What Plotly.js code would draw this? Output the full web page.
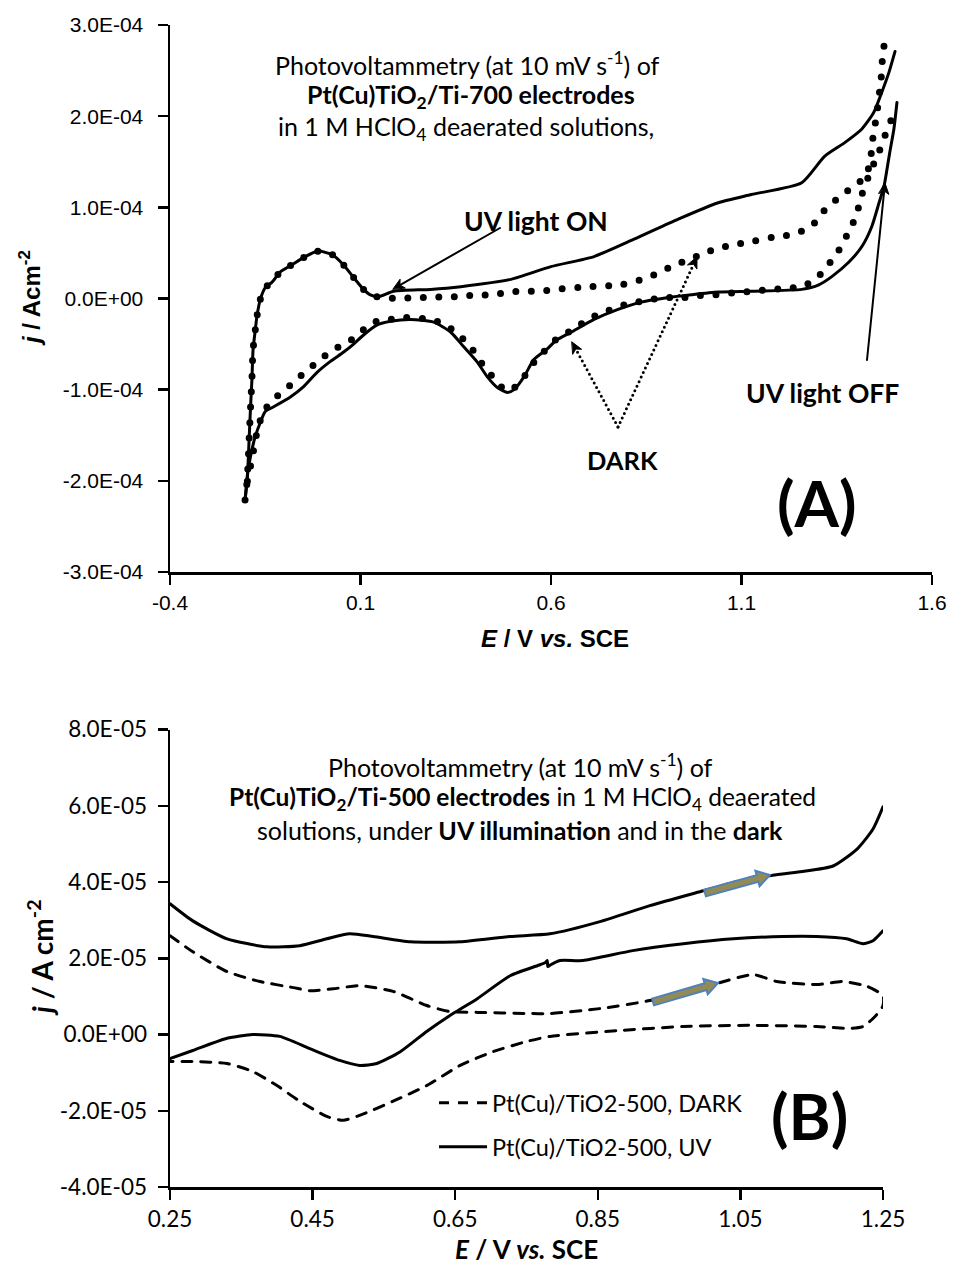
<!DOCTYPE html>
<html><head><meta charset="utf-8">
<script src="https://cdn.plot.ly/plotly-3.0.1.min.js"></script>
<style>
html,body{margin:0;padding:0;background:#fff;}
#chart{width:954px;height:1266px;}
.scatterlayer .js-line{stroke-linecap:round;}
.shapelayer path{stroke-linecap:round;}
</style></head><body><div id="chart"></div>
<script>
// ---------- Panel A : Pt(Cu)TiO2/Ti-700 ----------
const aUvOnE = [-0.203,-0.198,-0.195,-0.192,-0.188,-0.185,-0.182,-0.176,-0.172,-0.163,-0.150,-0.132,-0.111,-0.080,-0.045,-0.011,0.026,0.055,0.082,0.108,0.126,0.147,0.187,0.284,0.363,0.495,0.600,0.713,0.818,0.934,1.039,1.126,1.258,1.318,1.371,1.416,1.447,1.468,1.487,1.503];
const aUvOnJ = [-2.21e-4,-2.02e-4,-1.80e-4,-1.51e-4,-1.14e-4,-0.89e-4,-0.56e-4,-0.34e-4,-0.20e-4,-0.01e-4,0.12e-4,0.18e-4,0.29e-4,0.37e-4,0.46e-4,0.52e-4,0.48e-4,0.37e-4,0.23e-4,0.10e-4,0.04e-4,0.02e-4,0.08e-4,0.10e-4,0.13e-4,0.21e-4,0.35e-4,0.46e-4,0.65e-4,0.87e-4,1.05e-4,1.14e-4,1.27e-4,1.56e-4,1.71e-4,1.86e-4,2.04e-4,2.26e-4,2.48e-4,2.71e-4];
const aUvOffE = [1.508,1.500,1.489,1.482,1.474,1.461,1.442,1.416,1.382,1.337,1.303,1.258,1.126,1.039,0.968,0.908,0.837,0.776,0.713,0.653,0.613,0.591,0.555,0.529,0.503,0.486,0.460,0.433,0.407,0.371,0.337,0.292,0.232,0.179,0.144,0.108,0.082,0.055,0.021,-0.014,-0.050,-0.084,-0.129,-0.150,-0.163,-0.176,-0.185,-0.195,-0.203];
const aUvOffJ = [2.15e-4,1.86e-4,1.60e-4,1.42e-4,1.23e-4,1.05e-4,0.79e-4,0.57e-4,0.40e-4,0.24e-4,0.15e-4,0.10e-4,0.08e-4,0.07e-4,0.04e-4,0.01e-4,-0.04e-4,-0.12e-4,-0.23e-4,-0.37e-4,-0.46e-4,-0.55e-4,-0.67e-4,-0.86e-4,-1.00e-4,-1.03e-4,-0.98e-4,-0.86e-4,-0.70e-4,-0.53e-4,-0.37e-4,-0.26e-4,-0.23e-4,-0.25e-4,-0.29e-4,-0.40e-4,-0.50e-4,-0.59e-4,-0.69e-4,-0.81e-4,-0.97e-4,-1.08e-4,-1.19e-4,-1.24e-4,-1.36e-4,-1.51e-4,-1.66e-4,-1.88e-4,-2.21e-4];
const aDarkFwdE = [-0.203,-0.198,-0.195,-0.192,-0.188,-0.185,-0.182,-0.176,-0.172,-0.163,-0.150,-0.132,-0.111,-0.080,-0.045,-0.011,0.026,0.055,0.082,0.108,0.126,0.153,0.197,0.237,0.276,0.318,0.363,0.403,0.447,0.489,0.529,0.574,0.613,0.705,0.784,0.832,0.871,0.911,0.950,0.987,1.029,1.068,1.134,1.179,1.218,1.258,1.292,1.318,1.350,1.384,1.421,1.437,1.442,1.447,1.455,1.460,1.466,1.468,1.473,1.476];
const aDarkFwdJ = [-2.21e-4,-2.02e-4,-1.80e-4,-1.51e-4,-1.14e-4,-0.89e-4,-0.56e-4,-0.34e-4,-0.20e-4,-0.01e-4,0.12e-4,0.18e-4,0.29e-4,0.37e-4,0.46e-4,0.52e-4,0.48e-4,0.37e-4,0.23e-4,0.10e-4,0.04e-4,0.01e-4,0.00,0.01e-4,0.01e-4,0.02e-4,0.02e-4,0.04e-4,0.04e-4,0.07e-4,0.08e-4,0.08e-4,0.10e-4,0.13e-4,0.15e-4,0.20e-4,0.26e-4,0.34e-4,0.41e-4,0.47e-4,0.54e-4,0.58e-4,0.63e-4,0.67e-4,0.69e-4,0.74e-4,0.83e-4,0.97e-4,1.09e-4,1.20e-4,1.32e-4,1.47e-4,1.66e-4,1.83e-4,2.01e-4,2.20e-4,2.37e-4,2.55e-4,2.72e-4,2.90e-4];
const aDarkRevE = [1.492,1.476,1.461,1.437,1.416,1.405,1.389,1.371,1.350,1.324,1.297,1.258,1.213,1.174,1.134,1.092,1.029,0.987,0.947,0.903,0.863,0.824,0.784,0.739,0.705,0.653,0.613,0.582,0.555,0.529,0.503,0.482,0.463,0.437,0.411,0.389,0.358,0.324,0.284,0.239,0.218,0.174,0.134,0.100,0.068,0.029,0.000,-0.032,-0.063,-0.092,-0.124,-0.155,-0.168,-0.176,-0.185,-0.195,-0.200];
const aDarkRevJ = [1.95e-4,1.78e-4,1.61e-4,1.38e-4,1.14e-4,0.97e-4,0.79e-4,0.65e-4,0.49e-4,0.35e-4,0.22e-4,0.13e-4,0.11e-4,0.10e-4,0.08e-4,0.07e-4,0.04e-4,0.03e-4,0.01e-4,0.01e-4,-0.01e-4,-0.04e-4,-0.08e-4,-0.15e-4,-0.21e-4,-0.35e-4,-0.45e-4,-0.58e-4,-0.70e-4,-0.86e-4,-0.98e-4,-1.01e-4,-0.94e-4,-0.81e-4,-0.67e-4,-0.53e-4,-0.40e-4,-0.29e-4,-0.23e-4,-0.21e-4,-0.21e-4,-0.23e-4,-0.26e-4,-0.37e-4,-0.48e-4,-0.56e-4,-0.65e-4,-0.76e-4,-0.87e-4,-0.98e-4,-1.09e-4,-1.24e-4,-1.41e-4,-1.55e-4,-1.77e-4,-1.95e-4,-2.10e-4];
const aTickX = [-0.4,0.1,0.6,1.1,1.6];
const aTickXText = ['-0.4','0.1','0.6','1.1','1.6'];
const aTickY = [-3e-4,-2e-4,-1e-4,0,1e-4,2e-4,3e-4];
const aTickYText = ['-3.0E-04','-2.0E-04','-1.0E-04','0.0E+00','1.0E-04','2.0E-04','3.0E-04'];

// ---------- Panel B : Pt(Cu)TiO2/Ti-500 ----------
const bUvFwdE = [0.250,0.282,0.330,0.386,0.432,0.470,0.502,0.535,0.587,0.657,0.727,0.783,0.853,0.923,0.998,1.045,1.087,1.134,1.180,1.214,1.236,1.250];
const bUvFwdJ = [3.43e-5,2.98e-5,2.51e-5,2.30e-5,2.33e-5,2.51e-5,2.64e-5,2.57e-5,2.43e-5,2.43e-5,2.57e-5,2.64e-5,2.96e-5,3.38e-5,3.77e-5,4.01e-5,4.16e-5,4.27e-5,4.42e-5,4.87e-5,5.39e-5,5.97e-5];
const bUvRevE = [1.250,1.236,1.222,1.199,1.157,1.110,1.040,0.970,0.899,0.829,0.797,0.784,0.780,0.779,0.776,0.769,0.727,0.681,0.647,0.610,0.573,0.540,0.516,0.488,0.446,0.404,0.366,0.330,0.282,0.250];
const bUvRevJ = [2.72e-5,2.46e-5,2.38e-5,2.51e-5,2.57e-5,2.57e-5,2.51e-5,2.38e-5,2.20e-5,1.94e-5,1.94e-5,1.83e-5,1.78e-5,1.94e-5,1.88e-5,1.83e-5,1.54e-5,0.94e-5,0.55e-5,0.08e-5,-0.45e-5,-0.76e-5,-0.81e-5,-0.68e-5,-0.37e-5,-0.05e-5,0.00,-0.10e-5,-0.42e-5,-0.63e-5];
const bDarkFwdE = [0.250,0.282,0.330,0.376,0.423,0.446,0.479,0.516,0.563,0.610,0.643,0.681,0.751,0.783,0.853,0.923,1.017,1.068,1.101,1.157,1.194,1.228,1.250];
const bDarkFwdJ = [2.59e-5,2.17e-5,1.65e-5,1.39e-5,1.23e-5,1.15e-5,1.20e-5,1.28e-5,1.13e-5,0.76e-5,0.60e-5,0.58e-5,0.55e-5,0.55e-5,0.68e-5,0.89e-5,1.34e-5,1.57e-5,1.39e-5,1.31e-5,1.39e-5,1.26e-5,1.02e-5];
const bDarkRevE = [1.250,1.246,1.236,1.222,1.204,1.157,1.063,0.970,0.877,0.783,0.751,0.703,0.657,0.610,0.563,0.516,0.493,0.470,0.432,0.400,0.366,0.330,0.282,0.250];
const bDarkRevJ = [0.76e-5,0.63e-5,0.42e-5,0.21e-5,0.16e-5,0.21e-5,0.24e-5,0.21e-5,0.10e-5,-0.05e-5,-0.18e-5,-0.45e-5,-0.81e-5,-1.34e-5,-1.75e-5,-2.12e-5,-2.25e-5,-2.15e-5,-1.75e-5,-1.34e-5,-0.97e-5,-0.76e-5,-0.71e-5,-0.71e-5];
const bTickX = [0.25,0.45,0.65,0.85,1.05,1.25];
const bTickXText = ['0.25','0.45','0.65','0.85','1.05','1.25'];
const bTickY = [-4e-5,-2e-5,0,2e-5,4e-5,6e-5,8e-5];
const bTickYText = ['-4.0E-05','-2.0E-05','0.0E+00','2.0E-05','4.0E-05','6.0E-05','8.0E-05'];
const bSeriesNames = ['Pt(Cu)/TiO2-500, DARK','Pt(Cu)/TiO2-500, UV'];

// ---------- layout helpers ----------
const W = 954, H = 1266;
const P = x => x / W;          // pixel -> paper x
const Q = y => 1 - y / H;      // pixel -> paper y
const LATO = 'Lato, "Open Sans", sans-serif';
const ARIAL = '"Liberation Sans", Arial, sans-serif';
const BLACK = '#000';

const traces = [
  {x: aUvOnE.concat([null], aUvOffE), y: aUvOnJ.concat([null], aUvOffJ), xaxis:'x', yaxis:'y',
   mode:'lines', line:{color:BLACK, width:3, shape:'spline', smoothing:0.6}, showlegend:false, hoverinfo:'skip'},
  {x: aDarkFwdE.concat([null], aDarkRevE), y: aDarkFwdJ.concat([null], aDarkRevJ), xaxis:'x', yaxis:'y',
   mode:'lines', line:{color:BLACK, width:7, dash:'0px,15.5px', shape:'spline', smoothing:0.6}, showlegend:false, hoverinfo:'skip'},
  {x: bDarkFwdE.concat(bDarkRevE), y: bDarkFwdJ.concat(bDarkRevJ), xaxis:'x2', yaxis:'y2', name: bSeriesNames[0],
   mode:'lines', line:{color:BLACK, width:3, dash:'10px,9px', shape:'spline', smoothing:0.6}, legend:'legend', hoverinfo:'skip'},
  {x: bUvFwdE.concat([null], bUvRevE), y: bUvFwdJ.concat([null], bUvRevJ), xaxis:'x2', yaxis:'y2', name: bSeriesNames[1],
   mode:'lines', line:{color:BLACK, width:3, shape:'spline', smoothing:0.6}, legend:'legend2', hoverinfo:'skip'}
];

const axBase = {showline:true, linecolor:BLACK, linewidth:2.5, ticks:'outside', ticklen:10, tickwidth:2.5,
  tickcolor:BLACK, showgrid:false, zeroline:false, fixedrange:true, automargin:false, tickmode:'array'};

function pathOf(pts) {
  return 'M' + pts.map(p => P(p[0]).toFixed(5) + ',' + Q(p[1]).toFixed(5)).join(' L') + ' Z';
}
function blockArrow(x0, y0, x1, y1) {
  const dx = x1 - x0, dy = y1 - y0, L = Math.hypot(dx, dy);
  const ux = dx / L, uy = dy / L, nx = -uy, ny = ux;
  const hw = 3.5, hh = 8, hl = 13;
  const bx = x1 - ux * hl, by = y1 - uy * hl;
  return pathOf([[x0 + nx*hw, y0 + ny*hw],[bx + nx*hw, by + ny*hw],[bx + nx*hh, by + ny*hh],[x1, y1],
                 [bx - nx*hh, by - ny*hh],[bx - nx*hw, by - ny*hw],[x0 - nx*hw, y0 - ny*hw]]);
}
// thin pointer arrow: shaft line + triangular head (tail -> head)
function pointer(tx, ty, hx, hy, dotted) {
  const dx = hx - tx, dy = hy - ty, L = Math.hypot(dx, dy);
  const ux = dx / L, uy = dy / L, nx = -uy, ny = ux;
  const hl = 11, hh = 5;
  const bx = hx - ux * hl, by = hy - uy * hl;
  return [
    {type:'line', xref:'paper', yref:'paper', x0:P(tx), y0:Q(ty), x1:P(bx + ux*2), y1:Q(by + uy*2),
     line:{color:BLACK, width:dotted ? 3 : 2, dash:dotted ? '0px,5px' : 'solid'}},
    {type:'path', xref:'paper', yref:'paper', path:pathOf([[hx, hy],[bx + nx*hh, by + ny*hh],[bx + ux*3, by + uy*3],[bx - nx*hh, by - ny*hh]]),
     fillcolor:BLACK, line:{color:BLACK, width:1}}
  ];
}

const shapes = [].concat(
  pointer(500, 228, 393, 289, false),
  pointer(618, 427, 572, 342, true),
  pointer(618, 427, 697, 257, true),
  pointer(867, 360, 885, 183, false),
  [{type:'path', xref:'paper', yref:'paper', path:blockArrow(705, 893, 770, 875), fillcolor:'#948A54', line:{color:'#4F81BD', width:2}},
   {type:'path', xref:'paper', yref:'paper', path:blockArrow(653, 1002, 718, 983), fillcolor:'#948A54', line:{color:'#4F81BD', width:2}}]
);

function txt(text, x, y, size, extra, family) {
  return Object.assign({text, xref:'paper', yref:'paper', x:P(x), y:Q(y), xanchor:'center', yanchor:'middle',
    showarrow:false, font:{family:family || LATO, size, color:BLACK}}, extra || {});
}

const annotations = [
  // panel A texts
  txt('Photovoltammetry (at 10 mV s<sup>-1</sup>) of', 467, 63, 25),
  txt('<b>Pt(Cu)TiO<sub>2</sub>/Ti-700 electrodes</b>', 471, 96, 25),
  txt('in 1 M HClO<sub>4</sub> deaerated solutions,', 466, 128, 25),
  txt('<b>UV light ON</b>', 536, 221, 26.5),
  txt('<b>DARK</b>', 622, 460, 25.5),
  txt('<b>UV light OFF</b>', 822, 393, 26.5),
  txt('<b>(A)</b>', 817, 502, 64),
  // panel A axis titles
  txt('<b><i>E</i> / V <i>vs.</i> SCE</b>', 555, 638, 24, {}, ARIAL),
  txt('<b><i>j</i> / Acm<sup>-2</sup></b>', 30, 298, 24, {textangle:-90}, ARIAL),
  // panel B texts
  txt('Photovoltammetry (at 10 mV s<sup>-1</sup>) of', 520, 765, 25),
  txt('<b>Pt(Cu)TiO<sub>2</sub>/Ti-500 electrodes</b> in 1 M HClO<sub>4</sub> deaerated', 522, 798, 24.5),
  txt('solutions, under <b>UV illumination</b> and in the <b>dark</b>', 520, 830, 25),
  txt('<b>(B)</b>', 809, 1115, 64),
  // panel B axis titles
  txt('<b><i>E</i> / V <i>vs.</i> SCE</b>', 526, 1265.5, 26, {borderpad:0, yanchor:'bottom'}),
  txt('<b><i>j</i> / A cm<sup>-2</sup></b>', 40, 958, 28, {textangle:-90})
];

const legendBase = {xanchor:'left', yanchor:'middle', bgcolor:'rgba(0,0,0,0)', borderwidth:0,
  font:{family:LATO, size:23.5, color:BLACK}, itemclick:false, itemdoubleclick:false, itemwidth:48};

const layout = {
  width:W, height:H, margin:{l:0, r:0, t:0, b:0}, paper_bgcolor:'#fff', plot_bgcolor:'rgba(0,0,0,0)',
  showlegend:true,
  xaxis: Object.assign({}, axBase, {domain:[P(170), P(932)], range:[-0.4, 1.6], anchor:'y',
    tickvals:aTickX, ticktext:aTickXText, tickfont:{family:ARIAL, size:21, color:BLACK}}),
  yaxis: Object.assign({}, axBase, {domain:[Q(572), Q(25)], range:[-3e-4, 3e-4], anchor:'x',
    tickvals:aTickY, ticktext:aTickYText, tickfont:{family:ARIAL, size:21, color:BLACK}, ticklabelstandoff:10}),
  xaxis2: Object.assign({}, axBase, {domain:[P(170), P(883)], range:[0.25, 1.25], anchor:'y2',
    tickvals:bTickX, ticktext:bTickXText, tickfont:{family:LATO, size:22.5, color:BLACK}}),
  yaxis2: Object.assign({}, axBase, {domain:[Q(1187), Q(729.5)], range:[-4e-5, 8e-5], anchor:'x2',
    tickvals:bTickY, ticktext:bTickYText, tickfont:{family:LATO, size:22.5, color:BLACK}, ticklabelstandoff:6}),
  legend: Object.assign({}, legendBase, {x:P(434), y:Q(1103)}),
  legend2: Object.assign({}, legendBase, {x:P(434), y:Q(1147)}),
  shapes, annotations
};

Plotly.newPlot('chart', traces, layout, {staticPlot:true, displayModeBar:false});
</script>
</body></html>
